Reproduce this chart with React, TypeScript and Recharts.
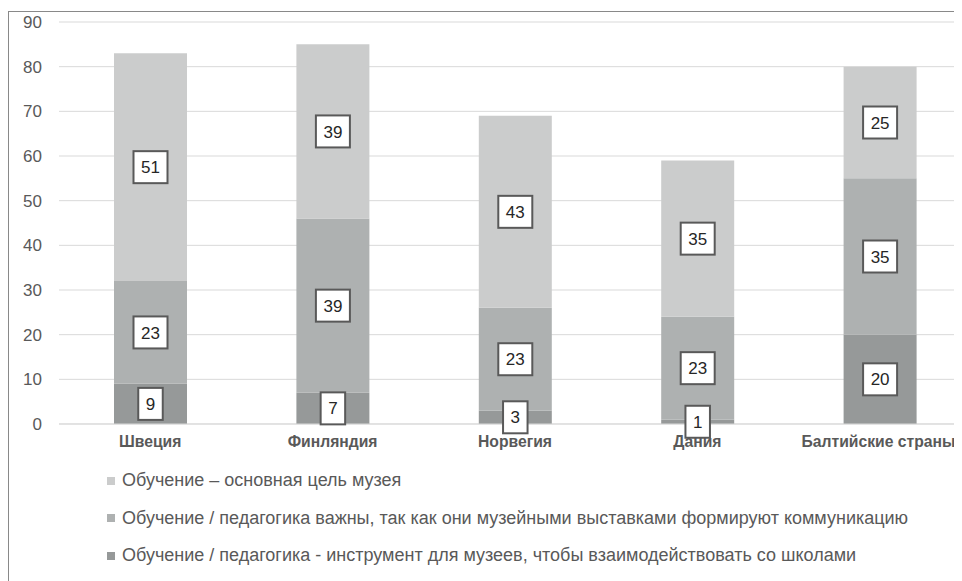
import { BarChart, Bar, XAxis, YAxis, CartesianGrid, Legend, LabelList } from 'recharts';

const CATEGORIES = ['Швеция', 'Финляндия', 'Норвегия', 'Дания', 'Балтийские страны'];
// bottom -> top of each stack
const TOOL = [9, 7, 3, 1, 20];
const IMPORTANT = [23, 39, 23, 23, 35];
const MAIN = [51, 39, 43, 35, 25];
const Y_TICKS = [0, 10, 20, 30, 40, 50, 60, 70, 80, 90];

const NAME_TOOL = 'Обучение / педагогика - инструмент для музеев, чтобы взаимодействовать со школами';
const NAME_IMPORTANT = 'Обучение / педагогика важны, так как они музейными выставками формируют коммуникацию';
const NAME_MAIN = 'Обучение – основная цель музея';

const chartData = CATEGORIES.map((name, i) => ({
  name,
  tool: TOOL[i],
  important: IMPORTANT[i],
  main: MAIN[i],
}));

const FONT = '"Liberation Sans", Arial, sans-serif';
const TEXT_GRAY = '#595959';
const VISIBLE_RIGHT = 946;

const BoxLabel = (props: any) => {
  const { x, y, width, height, value } = props;
  const cx = x + width / 2;
  const cy = y + height / 2;
  const w = String(value).length * 9.5 + 15;
  const h = 32;
  return (
    <g>
      <rect x={cx - w / 2} y={cy - h / 2} width={w} height={h} fill="#fff" stroke="#595959" strokeWidth={2} />
      <text x={cx} y={cy} dy="0.36em" textAnchor="middle" fontSize={17} fontFamily={FONT} fill="#262626">
        {value}
      </text>
    </g>
  );
};

// category label, nudged left if it would run past the visible edge
const CategoryTick = (props: any) => {
  const { x, y, payload } = props;
  const half = String(payload.value).length * 4.5;
  const shift = Math.min(0, VISIBLE_RIGHT - (x + half));
  return (
    <text x={x + shift} y={y} dy="0.71em" textAnchor="middle" fontSize={15.7} fontWeight="bold" fill={TEXT_GRAY} fontFamily={FONT}>
      {payload.value}
    </text>
  );
};

// legend lists the top series first, like the stacked order on screen
const LegendContent = (props: any) => {
  const items = [...(props.payload || [])].reverse();
  return (
    <div style={{ fontFamily: FONT, fontSize: 18, color: TEXT_GRAY }}>
      {items.map((it: any) => (
        <div key={it.value} style={{ height: 37.5, display: 'flex', alignItems: 'center', paddingLeft: 98 }}>
          <span style={{ display: 'inline-block', width: 8, height: 8, background: it.color, marginRight: 7 }} />
          <span>{it.value}</span>
        </div>
      ))}
    </div>
  );
};

export default function App() {
  return (
    <div style={{ width: 954, height: 573, overflow: 'hidden' }}>
      <div style={{ marginTop: 3, borderTop: '1px solid #898989', borderLeft: '1px solid #898989', height: 570 }}>
        <BarChart
          width={962}
          height={569}
          data={chartData}
          margin={{ top: 10, right: 0, left: 0, bottom: 4.5 }}
          style={{ fontFamily: FONT }}
        >
          <CartesianGrid vertical={false} stroke="#d9d9d9" />
          <XAxis
            dataKey="name"
            height={40}
            tickLine={false}
            tickSize={0}
            tickMargin={12}
            axisLine={{ stroke: '#d9d9d9' }}
            tick={<CategoryTick />}
            interval={0}
          />
          <YAxis
            width={50}
            domain={[0, 90]}
            ticks={Y_TICKS}
            axisLine={false}
            tickLine={false}
            tickSize={0}
            tickMargin={17}
            tick={{ fontSize: 17, fill: TEXT_GRAY, fontFamily: FONT }}
          />
          <Legend
            content={<LegendContent />}
            wrapperStyle={{ position: 'absolute', left: 0, top: 450, width: 962 }}
          />
          <Bar dataKey="tool" name={NAME_TOOL} stackId="a" fill="#969999" barSize={73} isAnimationActive={false}>
            <LabelList dataKey="tool" content={<BoxLabel />} />
          </Bar>
          <Bar dataKey="important" name={NAME_IMPORTANT} stackId="a" fill="#aeb1b1" barSize={73} isAnimationActive={false}>
            <LabelList dataKey="important" content={<BoxLabel />} />
          </Bar>
          <Bar dataKey="main" name={NAME_MAIN} stackId="a" fill="#cbcccc" barSize={73} isAnimationActive={false}>
            <LabelList dataKey="main" content={<BoxLabel />} />
          </Bar>
        </BarChart>
      </div>
    </div>
  );
}
